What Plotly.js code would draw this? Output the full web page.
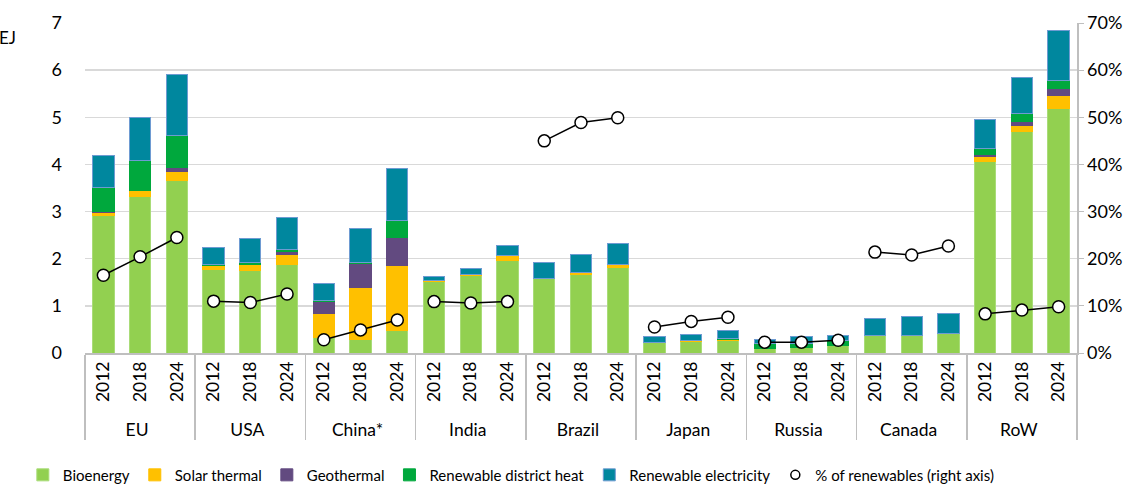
<!DOCTYPE html>
<html>
<head>
<meta charset="utf-8">
<script src="https://cdn.plot.ly/plotly-3.0.1.min.js"></script>
<style>html,body{margin:0;padding:0;background:#fff;}#chart{width:1142px;height:486px;}</style>
</head>
<body>
<div id="chart"></div>
<script>
const countries = ['EU','USA','China*','India','Brazil','Japan','Russia','Canada','RoW'];
const years = ['2012','2018','2024'];
const bioenergy = [2.91,3.32,3.65, 1.78,1.75,1.87, 0.33,0.29,0.47, 1.52,1.65,1.97, 1.58,1.66,1.82, 0.22,0.25,0.27, 0.10,0.12,0.16, 0.38,0.38,0.42, 4.07,4.69,5.18];
const solarThermal = [0.07,0.12,0.19, 0.07,0.12,0.22, 0.51,1.11,1.38, 0.02,0.02,0.09, 0,0.04,0.05, 0,0.02,0.01, 0,0,0, 0,0,0, 0.10,0.13,0.28];
const geothermal = [0.03,0.01,0.09, 0.01,0.01,0.07, 0.25,0.49,0.61, 0,0,0, 0,0,0, 0,0,0, 0,0,0, 0,0,0, 0.04,0.09,0.15];
const districtHeat = [0.50,0.63,0.68, 0.02,0.03,0.04, 0.02,0.02,0.35, 0,0,0, 0,0,0, 0,0,0.03, 0.10,0.08,0.10, 0,0,0, 0.12,0.16,0.16];
const renewableElectricity = [0.68,0.91,1.30, 0.35,0.51,0.68, 0.37,0.73,1.11, 0.09,0.12,0.21, 0.35,0.38,0.46, 0.12,0.13,0.16, 0.08,0.14,0.12, 0.36,0.39,0.41, 0.63,0.78,1.08];
const renewableShare = [16.5,20.4,24.5, 11.0,10.7,12.5, 2.8,4.9,7.0, 10.9,10.6,10.9, 45.0,48.9,49.9, 5.5,6.7,7.6, 2.3,2.3,2.7, 21.4,20.8,22.7, 8.3,9.1,9.8];

const xCountry = [], xYear = [];
countries.forEach(c => years.forEach(y => { xCountry.push(c); xYear.push(y); }));
const xCat = [xCountry, xYear];

const FONT = 'Lato, "Open Sans", sans-serif';
const series = [
  {name:'Bioenergy', y:bioenergy, color:'#92D050', line:'#A9DC78'},
  {name:'Solar thermal', y:solarThermal, color:'#FFC000', line:'#FFC000'},
  {name:'Geothermal', y:geothermal, color:'#624A80', line:'#624A80'},
  {name:'Renewable district heat', y:districtHeat, color:'#00A83D', line:'#00A83D'},
  {name:'Renewable electricity', y:renewableElectricity, color:'#00879E', line:'#6E9BD2'}
];
const traces = series.map(s => ({
  type:'bar', name:s.name, x:xCat, y:s.y,
  marker:{color:s.color, line:{color:s.line, width:1}},
  hoverinfo:'skip'
}));

countries.forEach((c, i) => {
  traces.push({
    type:'scatter', mode:'lines+markers', yaxis:'y2', showlegend:false,
    x:[[c,c,c], years], y:renewableShare.slice(i*3, i*3+3).map(v => v/100),
    line:{color:'#000', width:1.5},
    marker:{symbol:'circle', size:12, color:'#fff', line:{color:'#000', width:1.5}},
    hoverinfo:'skip'
  });
});
// legend-only entry for the share markers (no line in the legend key)
traces.push({
  type:'scatter', mode:'markers', yaxis:'y2', name:'% of renewables (right axis)',
  x:[[countries[0]],[years[0]]], y:[null],
  marker:{symbol:'circle', size:9, color:'#fff', line:{color:'#000', width:1.5}}
});

const layout = {
  width:1142, height:486,
  margin:{l:85, r:65, t:23, b:133, autoexpand:false},
  barmode:'stack', bargap:0.42,
  paper_bgcolor:'#fff', plot_bgcolor:'#fff',
  font:{family:FONT, size:17, color:'#000'},
  showlegend:true,
  legend:{orientation:'h', xref:'container', x:0.02, xanchor:'left', y:-0.32, yanchor:'top',
          font:{family:FONT, size:15}, itemwidth:30, tracegroupgap:0, traceorder:'normal'},
  xaxis:{type:'multicategory', range:[-0.5, 26.5], autorange:false, tickangle:-90, showline:true, linecolor:'#BFBFBF', linewidth:1.5,
         showdividers:true, dividercolor:'#BFBFBF', dividerwidth:1.5, automargin:false,
         ticks:'', tickfont:{family:FONT, size:17.5}, showgrid:false},
  yaxis:{range:[0,7], dtick:1, showgrid:true, gridcolor:'#D9D9D9', gridwidth:1.5, automargin:false,
         zeroline:false, showline:false, ticks:'', ticklabelstandoff:22,
         tickfont:{family:FONT, size:18}},
  yaxis2:{overlaying:'y', side:'right', range:[0,0.7], dtick:0.1, tickformat:'.0%', automargin:false,
          showgrid:false, zeroline:false, showline:true, linecolor:'#BFBFBF', linewidth:1.5,
          ticks:'outside', ticklen:5, tickcolor:'#BFBFBF', tickfont:{family:FONT, size:18}},
  annotations:[{text:'EJ', xref:'paper', yref:'paper', x:-0.068, y:0.955, xanchor:'right', yanchor:'middle',
                showarrow:false, font:{family:FONT, size:17}}]
};

Plotly.newPlot('chart', traces, layout, {staticPlot:true, displayModeBar:false});
</script>
</body>
</html>
